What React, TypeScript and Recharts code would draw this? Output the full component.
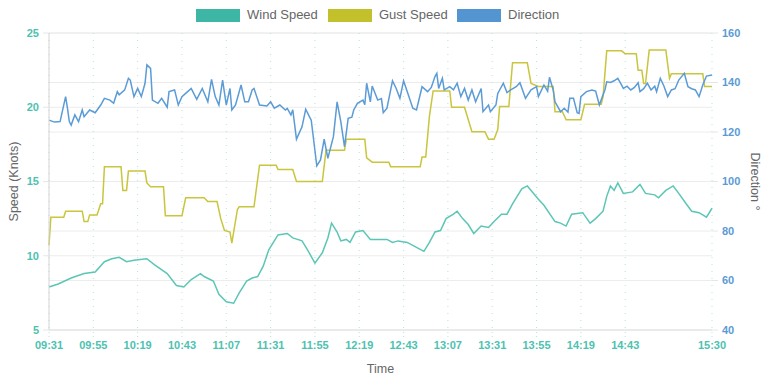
import { LineChart, Line, XAxis, YAxis, CartesianGrid, Label } from "recharts";

// minutes after 09:31
const START_MIN = 9 * 60 + 31;

const timeTicks = [0, 24, 48, 72, 96, 120, 144, 168, 192, 216, 240, 264, 288, 312, 359];
const speedTicks = [5, 10, 15, 20, 25];
const directionTicks = [40, 60, 80, 100, 120, 140, 160];

const windTime = [
  0, 5, 12, 19, 25, 30, 34, 38, 42, 46,
  53, 57, 64, 69, 73, 77, 82, 84, 89, 92,
  96, 100, 103, 107, 110, 113, 116, 119, 124, 129,
  132, 137, 140, 144, 148, 151, 153, 156, 158, 161,
  163, 166, 170, 174, 179, 183, 186, 189, 194, 200,
  203, 206, 209, 212, 215, 219, 221, 224, 227, 230,
  234, 238, 241, 245, 248, 251, 256, 259, 265, 268,
  274, 277, 280, 283, 289, 293, 296, 300, 302, 304,
  306, 308, 311, 316, 320, 323, 328, 330, 334, 338,
  341, 345, 348, 352, 356, 359,
];
const windKnots = [
  7.9, 8.1, 8.5, 8.8, 8.9, 9.6, 9.8, 9.9, 9.6, 9.7,
  9.8, 9.4, 8.8, 8.0, 7.9, 8.4, 8.8, 8.6, 8.3, 7.4,
  6.9, 6.8, 7.5, 8.3, 8.5, 8.6, 9.3, 10.4, 11.4, 11.5,
  11.2, 11.0, 10.4, 9.5, 10.2, 11.2, 12.2, 11.6, 11.0, 11.1,
  10.9, 11.6, 11.7, 11.1, 11.1, 11.1, 10.9, 11.0, 10.9, 10.5,
  10.3, 10.9, 11.6, 11.7, 12.5, 12.8, 13.0, 12.5, 12.1, 11.5,
  12.0, 11.9, 12.3, 12.8, 12.8, 13.5, 14.5, 14.7, 13.8, 13.4,
  12.3, 12.2, 12.0, 12.8, 12.9, 12.2, 12.5, 13.0, 14.0, 14.7,
  14.4, 14.9, 14.2, 14.3, 14.8, 14.2, 14.1, 13.9, 14.4, 14.7,
  14.2, 13.5, 13.0, 12.9, 12.6, 13.2,
];

const gustTime = [
  0, 1, 8, 9, 18, 19, 21, 22, 26, 28,
  29, 30, 39, 40, 42, 43, 52, 53, 55, 62,
  63, 72, 74, 84, 86, 91, 93, 95, 98, 99,
  102, 103, 111, 114, 123, 124, 132, 134, 148, 150,
  160, 161, 171, 172, 175, 184, 185, 201, 202, 204,
  206, 208, 217, 218, 225, 229, 236, 238, 241, 243,
  244, 249, 251, 259, 261, 265, 273, 274, 278, 280,
  288, 290, 299, 300, 302, 310, 312, 318, 319, 321,
  322, 323, 325, 334, 336, 337, 354, 355, 359,
];
const gustKnots = [
  10.7, 12.6, 12.6, 13.0, 13.0, 12.3, 12.3, 12.75, 12.75, 13.5,
  13.5, 16.0, 16.0, 14.4, 14.4, 15.7, 15.7, 14.9, 14.65, 14.65,
  12.7, 12.7, 13.9, 13.9, 13.65, 13.65, 12.5, 11.7, 11.6, 10.85,
  13.1, 13.3, 13.3, 16.1, 16.1, 15.8, 15.8, 15.0, 15.0, 17.1,
  17.1, 17.85, 17.85, 16.6, 16.3, 16.3, 16.0, 16.0, 16.65, 16.65,
  19.4, 21.1, 21.1, 20.0, 20.0, 18.35, 18.35, 17.85, 17.85, 18.5,
  20.05, 20.05, 23.0, 23.0, 21.6, 21.4, 21.4, 19.7, 19.7, 19.15,
  19.15, 20.2, 20.2, 20.7, 23.8, 23.8, 23.6, 23.6, 22.5, 22.5,
  21.6, 21.6, 23.85, 23.85, 21.95, 22.25, 22.25, 21.4, 21.4,
];

const directionTime = [
  0, 3, 6, 9, 10, 11, 12, 14, 16, 18,
  19, 22, 25, 28, 30, 33, 35, 37, 38, 41,
  43, 44, 46, 48, 50, 52, 53, 55, 56, 59,
  61, 64, 65, 68, 70, 72, 74, 77, 80, 83,
  86, 88, 90, 92, 94, 96, 98, 99, 101, 104,
  106, 108, 110, 111, 114, 118, 120, 122, 125, 128,
  129, 131, 132, 134, 137, 139, 141, 142, 145, 147,
  149, 151, 154, 156, 158, 160, 162, 164, 165, 167,
  170, 171, 172, 174, 175, 178, 180, 181, 183, 186,
  188, 190, 192, 194, 197, 199, 202, 205, 207, 209,
  210, 211, 213, 214, 217, 219, 221, 223, 225, 227,
  229, 231, 234, 235, 238, 239, 242, 243, 246, 248,
  250, 253, 255, 258, 261, 264, 265, 268, 270, 271,
  273, 274, 277, 279, 281, 282, 284, 286, 287, 288,
  291, 294, 296, 298, 300, 301, 302, 304, 306, 308,
  310, 311, 313, 315, 317, 319, 320, 322, 324, 326,
  328, 329, 331, 333, 335, 337, 339, 341, 344, 346,
  348, 350, 352, 354, 356, 359,
];
const directionDeg = [
  124.8, 124.0, 124.2, 134.3, 129.6, 124.2, 122.8, 126.9, 124.2, 128.9,
  126.2, 128.9, 127.8, 130.9, 133.6, 132.9, 131.6, 136.3, 135.0, 137.0,
  141.7, 141.0, 134.3, 137.6, 134.3, 139.7, 147.1, 145.7, 132.9, 131.6,
  133.6, 130.0, 136.3, 137.0, 130.9, 134.3, 135.6, 137.6, 133.2, 137.6,
  132.2, 141.3, 134.3, 130.9, 141.0, 130.9, 137.6, 128.9, 130.9, 139.0,
  132.2, 132.2, 137.0, 137.6, 130.9, 130.5, 132.2, 129.6, 130.9, 128.9,
  129.5, 126.9, 129.0, 117.1, 122.1, 129.2, 126.2, 124.8, 106.3, 108.7,
  117.1, 109.4, 118.1, 132.2, 124.2, 114.1, 125.5, 126.0, 128.9, 131.6,
  132.9, 131.0, 139.7, 132.2, 138.6, 132.9, 133.5, 127.8, 129.6, 140.7,
  137.6, 133.6, 140.7, 136.3, 129.6, 128.9, 138.3, 136.3, 138.0, 142.4,
  143.7, 137.6, 141.7, 137.0, 138.3, 137.0, 139.7, 134.3, 137.6, 132.9,
  137.0, 132.2, 137.6, 128.2, 130.9, 128.2, 130.9, 135.6, 139.7, 135.9,
  137.0, 138.3, 139.9, 133.6, 137.0, 138.3, 134.3, 139.0, 136.5, 142.1,
  137.0, 132.2, 128.2, 129.6, 128.0, 133.6, 133.6, 127.8, 127.5, 134.3,
  136.3, 137.0, 136.5, 130.9, 135.0, 137.0, 140.3, 140.0, 140.7, 141.7,
  139.0, 137.6, 138.5, 137.0, 138.0, 139.9, 136.3, 137.5, 139.7, 137.0,
  138.5, 136.3, 141.7, 138.5, 134.3, 137.0, 137.5, 141.0, 143.7, 138.3,
  137.5, 137.0, 134.3, 139.0, 142.6, 143.0,
];

const legendItems = [
  { name: "Wind Speed", color: "#3db6a6", left: 196, textLeft: 247 },
  { name: "Gust Speed", color: "#c3c12b", left: 328, textLeft: 379 },
  { name: "Direction", color: "#5295d0", left: 457, textLeft: 508 },
];

const toClock = (m: number) => {
  const t = START_MIN + m;
  const h = Math.floor(t / 60);
  const mm = t % 60;
  return `${String(h).padStart(2, "0")}:${String(mm).padStart(2, "0")}`;
};

const zip = (times: number[], values: number[]) =>
  times.map((t, i) => ({ t, v: values[i] }));

const windData = zip(windTime, windKnots);
const gustData = zip(gustTime, gustKnots);
const directionData = zip(directionTime, directionDeg);

const FONT = "'Liberation Sans', Arial, Helvetica, sans-serif";

const axisTitle = (text: string, dx: number, angle: number) => (props: any) => {
  const vb = props.viewBox;
  const cx = vb.x + dx;
  const cy = vb.y + vb.height / 2;
  return (
    <text
      x={cx}
      y={cy}
      transform={`rotate(${angle} ${cx} ${cy})`}
      textAnchor="middle"
      dominantBaseline="central"
      fill="#666"
      fontSize={12.5}
      fontFamily={FONT}
    >
      {text}
    </text>
  );
};

const timeTitle = (props: any) => {
  const vb = props.viewBox;
  return (
    <text
      x={vb.x + vb.width / 2}
      y={369}
      textAnchor="middle"
      dominantBaseline="central"
      fill="#666"
      fontSize={12.5}
      fontFamily={FONT}
    >
      Time
    </text>
  );
};

export default function App() {
  return (
    <div
      style={{
        position: "absolute",
        left: 0,
        top: 0,
        width: 768,
        height: 383,
        background: "#fff",
        fontFamily: FONT,
      }}
    >
      {legendItems.map((item) => (
        <div key={item.name}>
          <div
            style={{
              position: "absolute",
              left: item.left,
              top: 9,
              width: 44,
              height: 13,
              background: item.color,
            }}
          />
          <div
            style={{
              position: "absolute",
              left: item.textLeft,
              top: 7,
              fontSize: 13,
              lineHeight: "16px",
              color: "#666",
            }}
          >
            {item.name}
          </div>
        </div>
      ))}
      <LineChart
        width={768}
        height={383}
        margin={{ top: 33, right: 0, bottom: 0, left: 0 }}
      >
        <CartesianGrid
          xAxisId="time"
          yAxisId="speed"
          vertical={false}
          stroke="#ececec"
        />
        <CartesianGrid
          xAxisId="time"
          yAxisId="dir"
          vertical={false}
          stroke="#ececec"
        />
        <CartesianGrid
          xAxisId="time"
          yAxisId="speed"
          horizontal={false}
          stroke="#b5e3db"
          strokeDasharray="1 6"
        />
        <XAxis
          xAxisId="time"
          dataKey="t"
          type="number"
          domain={[0, 359]}
          ticks={timeTicks}
          tickFormatter={toClock}
          height={53}
          interval={0}
          axisLine={{ stroke: "#e3e3e3" }}
          tickLine={{ stroke: "#b5e3db", strokeDasharray: "1 3" }}
          tickSize={7}
          tickMargin={4}
          tick={{ fill: "#4cc2b0", fontSize: 11, fontWeight: "bold" }}
        >
          <Label content={timeTitle} />
        </XAxis>
        <YAxis
          yAxisId="speed"
          orientation="left"
          width={49}
          domain={[5, 25]}
          ticks={speedTicks}
          interval={0}
          axisLine={{ stroke: "#d4d4d4" }}
          tickLine={{ stroke: "#e6e6e6" }}
          tickSize={6}
          tickMargin={4}
          tick={{ fill: "#4cc2b0", fontSize: 11, fontWeight: "bold" }}
        >
          <Label content={axisTitle("Speed (Knots)", 14, -90)} />
        </YAxis>
        <YAxis
          yAxisId="dir"
          orientation="right"
          width={56}
          domain={[40, 160]}
          ticks={directionTicks}
          interval={0}
          axisLine={false}
          tickLine={{ stroke: "#e6e6e6" }}
          tickSize={6}
          tickMargin={4}
          tick={{ fill: "#5b9bd5", fontSize: 11, fontWeight: "bold" }}
        >
          <Label content={axisTitle("Direction °", 43, 90)} />
        </YAxis>
        <Line
          xAxisId="time"
          yAxisId="speed"
          data={windData}
          dataKey="v"
          name="Wind Speed"
          type="linear"
          stroke="#5cc6b6"
          strokeWidth={1.5}
          dot={false}
          isAnimationActive={false}
        />
        <Line
          xAxisId="time"
          yAxisId="speed"
          data={gustData}
          dataKey="v"
          name="Gust Speed"
          type="linear"
          stroke="#c9c53d"
          strokeWidth={1.5}
          dot={false}
          isAnimationActive={false}
        />
        <Line
          xAxisId="time"
          yAxisId="dir"
          data={directionData}
          dataKey="v"
          name="Direction"
          type="linear"
          stroke="#5b9bd6"
          strokeWidth={1.5}
          dot={false}
          isAnimationActive={false}
        />
      </LineChart>
    </div>
  );
}
